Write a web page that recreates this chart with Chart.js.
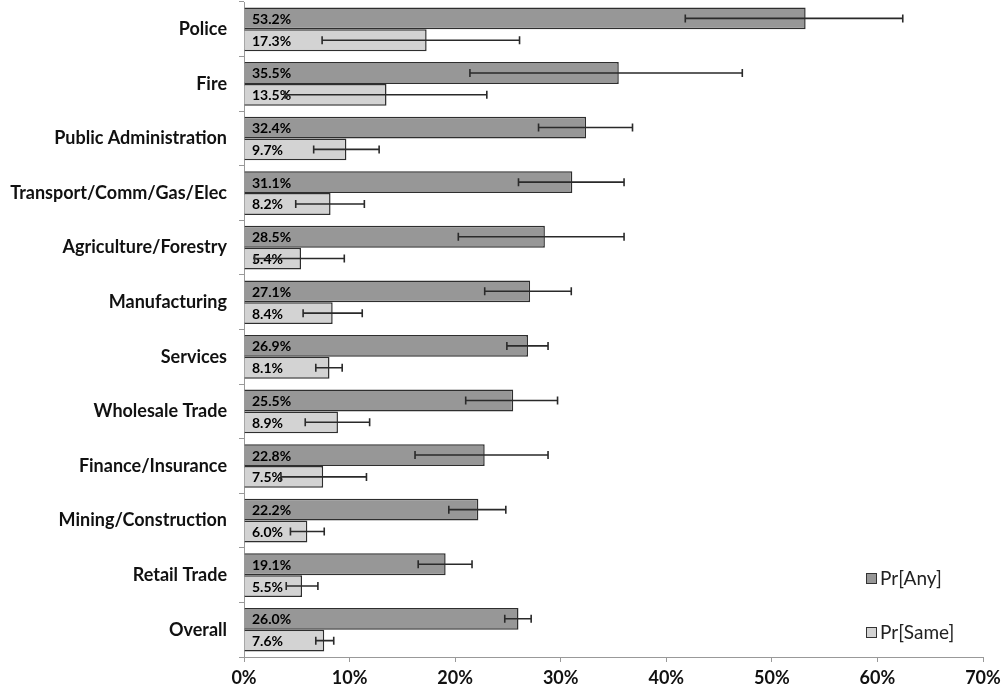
<!DOCTYPE html>
<html>
<head>
<meta charset="utf-8">
<script src="https://cdn.jsdelivr.net/npm/chart.js@4"></script>
<style>
  html, body { margin: 0; padding: 0; background: #fff; }
  #wrap { width: 1001px; height: 692px; }
</style>
</head>
<body>
<div id="wrap"><canvas id="chart" width="1001" height="692"></canvas></div>
<script>
const categories = ["Police", "Fire", "Public Administration", "Transport/Comm/Gas/Elec",
  "Agriculture/Forestry", "Manufacturing", "Services", "Wholesale Trade",
  "Finance/Insurance", "Mining/Construction", "Retail Trade", "Overall"];
const anyVals = [53.2, 35.5, 32.4, 31.1, 28.5, 27.1, 26.9, 25.5, 22.8, 22.2, 19.1, 26.0];
const sameVals = [17.3, 13.5, 9.7, 8.2, 5.4, 8.4, 8.1, 8.9, 7.5, 6.0, 5.5, 7.6];
const anyLow = [41.8, 21.4, 27.9, 26.0, 20.3, 22.8, 24.9, 21.0, 16.2, 19.4, 16.5, 24.7];
const anyHigh = [62.4, 47.2, 36.8, 36.0, 36.0, 31.0, 28.8, 29.7, 28.8, 24.8, 21.6, 27.2];
const sameLow = [7.4, 3.9, 6.6, 4.9, 1.0, 5.6, 6.8, 5.8, 3.5, 4.4, 4.0, 6.8];
const sameHigh = [26.1, 23.0, 12.8, 11.4, 9.5, 11.2, 9.3, 11.9, 11.6, 7.6, 7.0, 8.5];
const xTicks = [0, 10, 20, 30, 40, 50, 60, 70];
const seriesNames = ["Pr[Any]", "Pr[Same]"];

const FONT = "Lato, 'Open Sans', sans-serif";
const errors = [[anyLow, anyHigh], [sameLow, sameHigh]];

// value labels inside the bars, then error bars on top
const barExtras = {
  id: "barExtras",
  afterDatasetsDraw(chart) {
    const ctx = chart.ctx;
    const x = chart.scales.x;
    ctx.save();
    chart.data.datasets.forEach((ds, di) => {
      const meta = chart.getDatasetMeta(di);
      meta.data.forEach((bar, i) => {
        ctx.fillStyle = "#000";
        ctx.font = "bold 14px " + FONT;
        ctx.textAlign = "left";
        ctx.textBaseline = "middle";
        ctx.fillText(ds.data[i].toFixed(1) + "%", x.getPixelForValue(0) + 8, bar.y + 1);
      });
    });
    chart.data.datasets.forEach((ds, di) => {
      const meta = chart.getDatasetMeta(di);
      const [lo, hi] = errors[di];
      meta.data.forEach((bar, i) => {
        const x1 = x.getPixelForValue(lo[i]);
        const x2 = x.getPixelForValue(hi[i]);
        ctx.strokeStyle = "#2a2a2a";
        ctx.lineWidth = 1.6;
        ctx.beginPath();
        ctx.moveTo(x1, bar.y);
        ctx.lineTo(x2, bar.y);
        ctx.moveTo(x1, bar.y - 4);
        ctx.lineTo(x1, bar.y + 4);
        ctx.moveTo(x2, bar.y - 4);
        ctx.lineTo(x2, bar.y + 4);
        ctx.stroke();
      });
    });
    ctx.restore();
  }
};

// legend in the lower right corner
const cornerLegend = {
  id: "cornerLegend",
  afterDraw(chart) {
    const ctx = chart.ctx;
    const rows = [578, 632];
    ctx.save();
    chart.data.datasets.forEach((ds, di) => {
      const y = rows[di];
      ctx.fillStyle = ds.backgroundColor;
      ctx.strokeStyle = "#333";
      ctx.lineWidth = 1;
      ctx.fillRect(866, y - 5, 11, 11);
      ctx.strokeRect(866.5, y - 4.5, 10, 10);
      ctx.fillStyle = "#222";
      ctx.font = "19px " + FONT;
      ctx.textAlign = "left";
      ctx.textBaseline = "middle";
      ctx.fillText(seriesNames[di], 880, y + 1);
    });
    ctx.restore();
  }
};

new Chart(document.getElementById("chart").getContext("2d"), {
  type: "bar",
  data: {
    labels: categories,
    datasets: [
      {
        label: seriesNames[0],
        data: anyVals,
        backgroundColor: "#979797",
        borderColor: "#2e2e2e",
        borderWidth: 1.5,
        categoryPercentage: 0.8,
        barPercentage: 1.0,
      },
      {
        label: seriesNames[1],
        data: sameVals,
        backgroundColor: "#d3d3d3",
        borderColor: "#2e2e2e",
        borderWidth: 1.5,
        categoryPercentage: 0.8,
        barPercentage: 1.0,
      },
    ],
  },
  options: {
    indexAxis: "y",
    responsive: false,
    animation: false,
    layout: { padding: { left: 0, right: 18, top: 2, bottom: 0 } },
    plugins: {
      legend: { display: false },
      tooltip: { enabled: false },
    },
    scales: {
      x: {
        min: 0,
        max: 70,
        afterBuildTicks(scale) {
          scale.ticks = xTicks.map((v) => ({ value: v }));
        },
        afterFit(scale) {
          scale.height = 35;
          scale.paddingLeft = 0;
          scale.paddingRight = 0;
        },
        ticks: {
          callback: (v) => v + "%",
          color: "#111",
          font: { family: FONT, size: 18, weight: "bold" },
          padding: 5,
          maxRotation: 0,
        },
        grid: { drawOnChartArea: false, tickLength: 5, color: "#999" },
        border: { display: true, color: "#999" },
      },
      y: {
        afterFit(scale) {
          scale.width = 244;
          scale.paddingTop = 0;
          scale.paddingBottom = 0;
        },
        ticks: {
          color: "#111",
          font: { family: FONT, size: 18, weight: "bold" },
          padding: 12,
        },
        grid: { drawOnChartArea: false, offset: true, tickLength: 5, color: "#999" },
        border: { display: true, color: "#999" },
      },
    },
  },
  plugins: [barExtras, cornerLegend],
});
</script>
</body>
</html>
